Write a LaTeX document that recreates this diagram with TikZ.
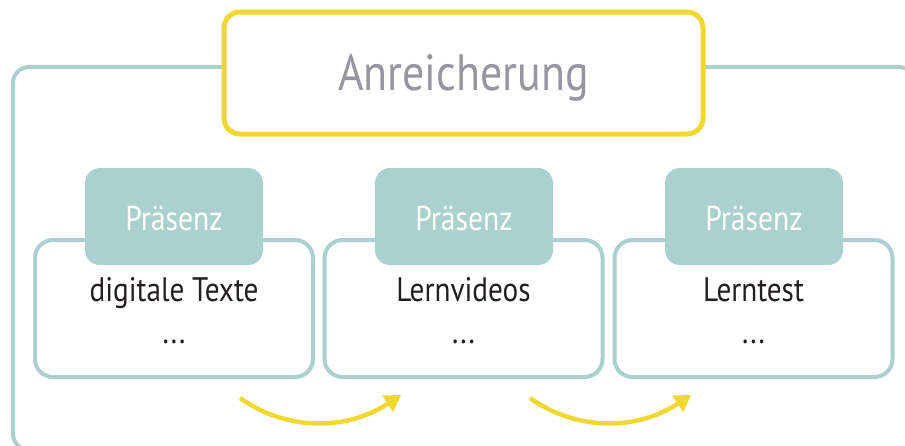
\documentclass[tikz,border=0pt]{standalone}
\usepackage{fontspec}
\setmainfont{PT Sans}[FakeStretch=0.86]
\usetikzlibrary{arrows.meta}
\definecolor{teal1}{HTML}{AAD1CE}
\definecolor{yell}{HTML}{F0D832}
\definecolor{graytxt}{HTML}{96979E}
\definecolor{darktxt}{HTML}{231F20}
\tikzset{
  outerbox/.style={draw=teal1, line width=4pt, rounded corners=16pt},
  titlebox/.style={draw=yell, line width=5pt, fill=white, rounded corners=16pt, minimum width=479pt, minimum height=122pt, inner sep=0pt},
  cbox/.style={draw=teal1, line width=4pt, fill=white, rounded corners=18pt, minimum width=278pt, minimum height=137pt, inner sep=0pt},
  tab/.style={fill=teal1, rounded corners=15pt, minimum width=178pt, minimum height=97pt, inner sep=0pt},
  tabtxt/.style={text=white, font=\fontsize{34.5}{34.5}\selectfont, anchor=base, inner sep=0pt},
  ctxt/.style={text=darktxt, font=\fontsize{34}{34}\selectfont, anchor=base, inner sep=0pt},
  ttxt/.style={text=graytxt, font=\fontsize{51}{51}\selectfont, anchor=base, inner sep=0pt},
  flow/.style={draw=yell, line width=4.5pt, -{Triangle[width=19pt,length=16pt]}},
}
\begin{document}
\begin{tikzpicture}[x=1pt,y=-1pt]
\useasboundingbox (0,0) rectangle (905,445);
\clip (0,0) rectangle (905,445);
% outer frame
\draw[outerbox] (13,67) rectangle (915,450);
% title
\node[titlebox] (title) at (463.5,73) {};
\node[ttxt] (titletxt) at (463.5,90) {Anreicherung};
% content boxes
\node[cbox] (b1) at (174,308.5) {};
\node[cbox] (b2) at (463.5,308.5) {};
\node[cbox] (b3) at (753.5,308.5) {};
% tabs
\node[tab] (t1) at (174,216.5) {};
\node[tab] (t2) at (464,216.5) {};
\node[tab] (t3) at (754,216.5) {};
\node[tabtxt] (tt1) at (174,230) {Präsenz};
\node[tabtxt] (tt2) at (464,230) {Präsenz};
\node[tabtxt] (tt3) at (754,230) {Präsenz};
% contents
\node[ctxt] (c1) at (174,301) {digitale Texte};
\node[ctxt] (c2) at (463.5,301) {Lernvideos};
\node[ctxt] (c3) at (753.5,301) {Lerntest};
\node[ctxt] (d1) at (174,343) {...};
\node[ctxt] (d2) at (463.5,343) {...};
\node[ctxt] (d3) at (753.5,343) {...};
% arrows
\coordinate (a1s) at (240,398);
\coordinate (a1e) at (401,395);
\coordinate (a2s) at (530,398);
\coordinate (a2e) at (691,395);
\draw[flow] (a1s) .. controls (285,430) and (345,432) .. (a1e);
\draw[flow] (a2s) .. controls (575,430) and (635,432) .. (a2e);
\end{tikzpicture}
\end{document}
